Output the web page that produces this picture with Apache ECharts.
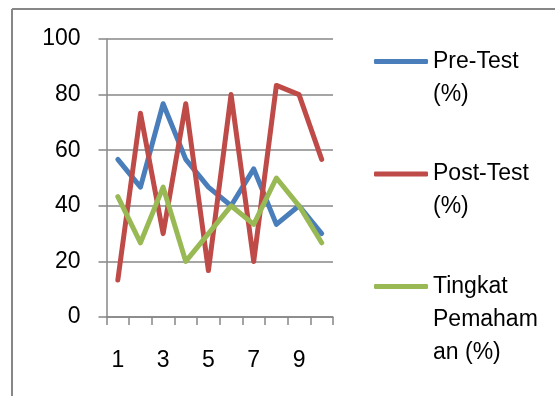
<!DOCTYPE html>
<html>
<head>
<meta charset="utf-8">
<script src="https://cdn.jsdelivr.net/npm/echarts@6/dist/echarts.min.js"></script>
<style>
html,body{margin:0;padding:0;background:#fff;overflow:hidden}
#c{width:555px;height:396px}
</style>
</head>
<body>
<div id="c"></div>
<script>
var categories = ['1','2','3','4','5','6','7','8','9','10'];
var preTest = [56.7, 46.7, 76.7, 56.7, 46.7, 40, 53.3, 33.3, 40, 30];
var postTest = [13.3, 73.3, 30, 76.7, 16.7, 80, 20, 83.3, 80, 56.7];
var pemahaman = [43.3, 26.7, 46.7, 20, 30, 40, 33.3, 50, 40, 26.7];
var yTicks = [0, 20, 40, 60, 80, 100];
var seriesNames = ['Pre-Test (%)', 'Post-Test (%)', 'Tingkat Pemahaman (%)'];
var legendLabels = ['Pre-Test\n(%)', 'Post-Test\n(%)', 'Tingkat\nPemaham\nan (%)'];
var colors = ['#4A7EBB', '#BE4B48', '#98B954'];

var FONT = 'Liberation Sans';
var FS = 23;
var LH = 33;
var gray = '#878787';

function makeLegend(i, top) {
  var lines = legendLabels[i].split('\n').length;
  var pad = '';
  for (var k = 1; k < lines; k++) pad += '\n';
  return {
    show: true,
    left: 374,
    top: top,
    padding: 0,
    orient: 'vertical',
    icon: 'roundRect',
    itemWidth: 54,
    itemHeight: 5,
    itemGap: 0,
    data: [seriesNames[i]],
    formatter: function () { return pad + legendLabels[i]; },
    textStyle: { fontFamily: FONT, fontSize: FS, lineHeight: LH, color: '#000' },
    selectedMode: false
  };
}

var chart = echarts.init(document.getElementById('c'), null, { renderer: 'canvas' });
chart.setOption({
  animation: false,
  backgroundColor: '#fff',
  graphic: {
    elements: [
      { type: 'line', z: 100, silent: true, shape: { x1: 12, y1: 9, x2: 555, y2: 9 },
        style: { stroke: gray, lineWidth: 2 } },
      { type: 'line', z: 100, silent: true, shape: { x1: 12, y1: 9, x2: 12, y2: 396 },
        style: { stroke: gray, lineWidth: 2 } }
    ]
  },
  grid: { left: 106.5, right: 222, top: 39, bottom: 79, containLabel: false },
  legend: [makeLegend(0, 12), makeLegend(1, 124.5), makeLegend(2, 204)],
  xAxis: {
    type: 'category',
    data: categories,
    boundaryGap: true,
    axisLine: { show: true, lineStyle: { color: gray, width: 1.5 } },
    axisTick: { show: true, length: 8, interval: 0, alignWithLabel: false, lineStyle: { color: gray, width: 1.5 } },
    axisLabel: { interval: 1, margin: 32, fontFamily: FONT, fontSize: FS, color: '#000' },
    splitLine: { show: false }
  },
  yAxis: {
    type: 'value',
    min: yTicks[0],
    max: yTicks[yTicks.length - 1],
    interval: yTicks[1] - yTicks[0],
    axisLine: { show: true, lineStyle: { color: gray, width: 1.5 } },
    axisTick: { show: true, length: 8, inside: false, lineStyle: { color: gray, width: 1.5 } },
    axisLabel: { margin: 26, fontFamily: FONT, fontSize: FS, color: '#000' },
    splitLine: { show: true, lineStyle: { color: gray, width: 1.5 } }
  },
  series: [
    { name: seriesNames[0], type: 'line', data: preTest, symbol: 'none', color: colors[0],
      lineStyle: { width: 5, color: colors[0], cap: 'round', join: 'round' } },
    { name: seriesNames[1], type: 'line', data: postTest, symbol: 'none', color: colors[1],
      lineStyle: { width: 5, color: colors[1], cap: 'round', join: 'round' } },
    { name: seriesNames[2], type: 'line', data: pemahaman, symbol: 'none', color: colors[2],
      lineStyle: { width: 5, color: colors[2], cap: 'round', join: 'round' } }
  ]
});
</script>
</body>
</html>
